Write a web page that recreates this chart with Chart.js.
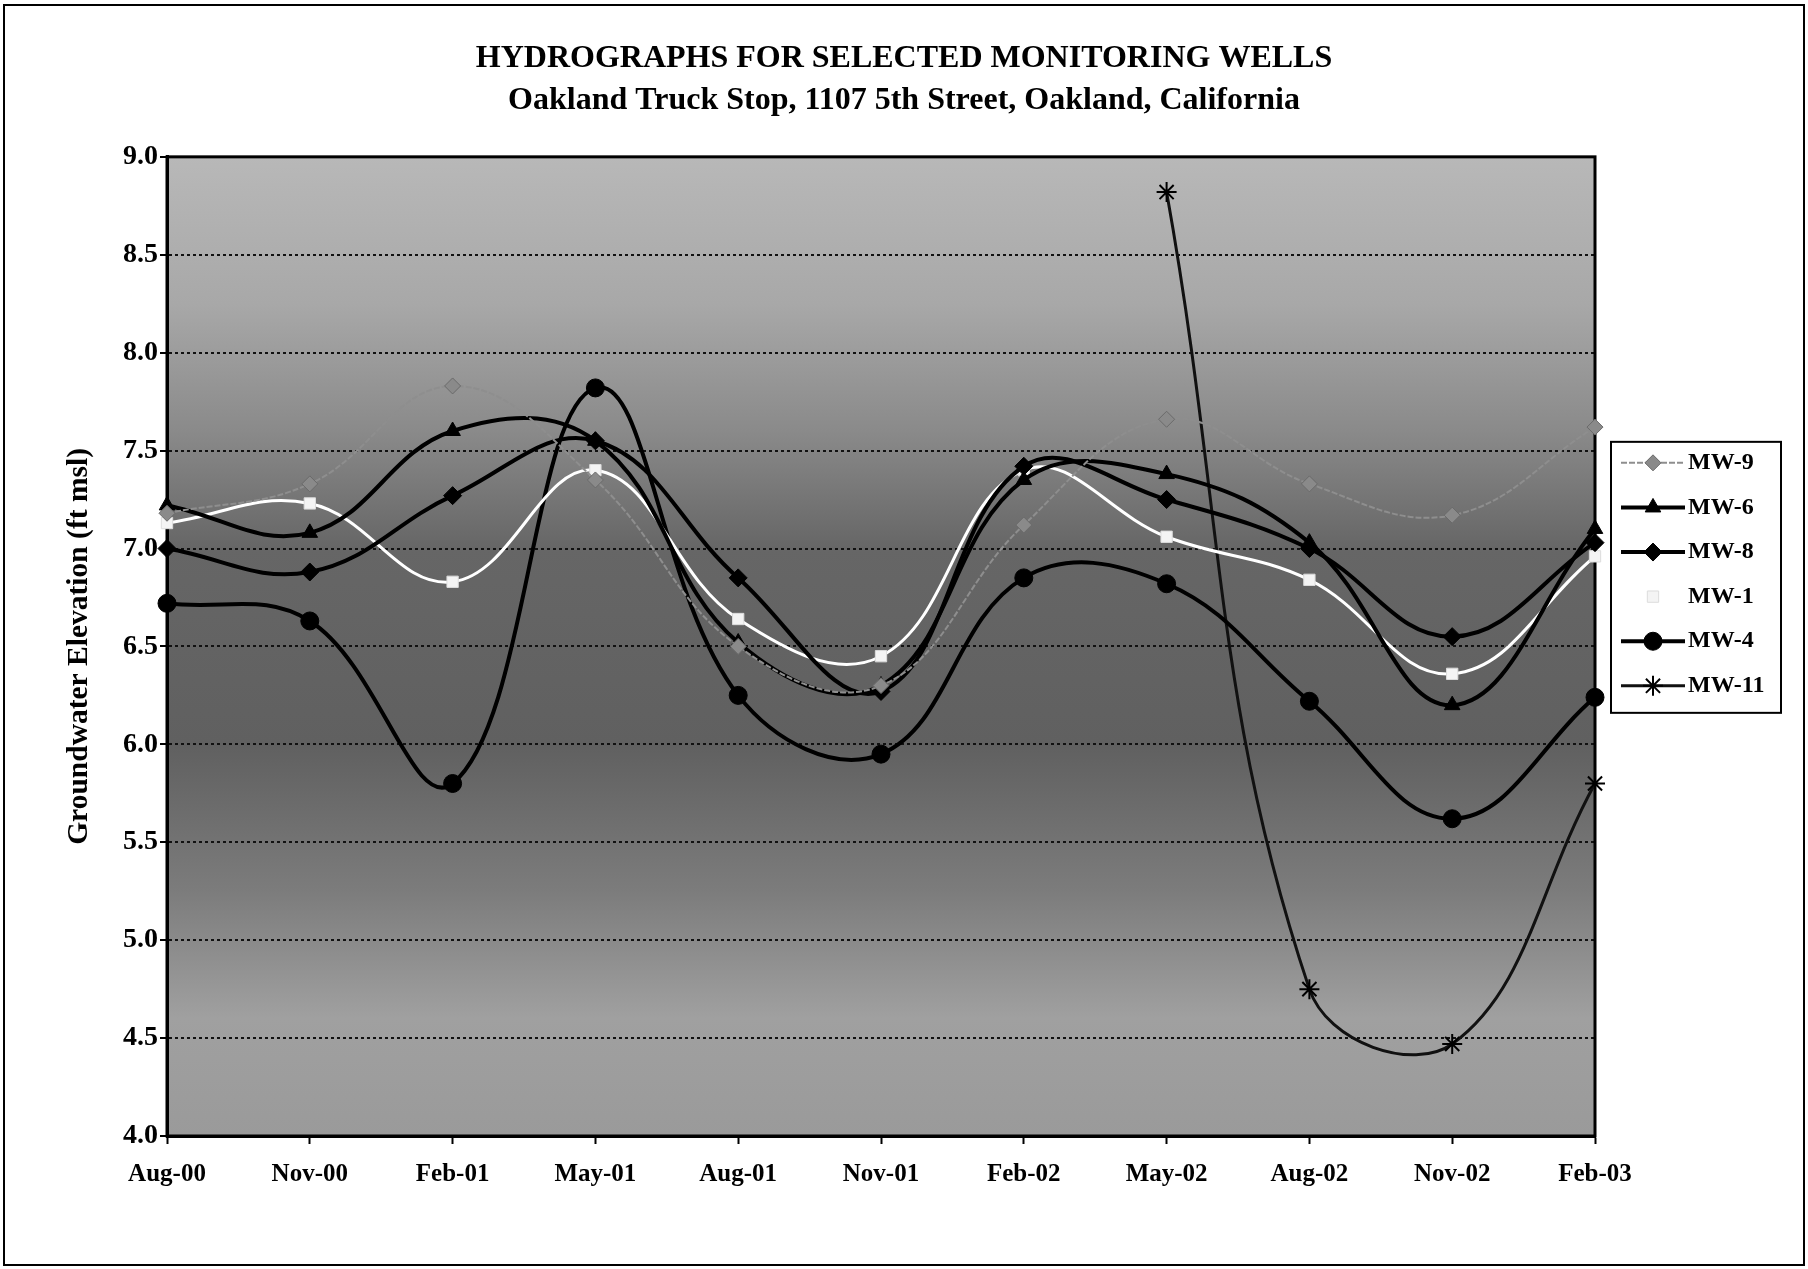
<!DOCTYPE html>
<html>
<head>
<meta charset="utf-8">
<script src="https://cdn.jsdelivr.net/npm/chart.js@4.4.1/dist/chart.umd.min.js"></script>
<style>
    html, body { margin: 0; padding: 0; background: #fff; }
    #wrap { width: 1808px; height: 1269px; }
</style>
</head>
<body>
<div id="wrap"><canvas id="hydroChart" width="1808" height="1269"></canvas></div>
<script>
// ===================================
// Hydrographs - Oakland Truck Stop
// ===================================

const titleLines = [
    'HYDROGRAPHS FOR SELECTED MONITORING WELLS',
    'Oakland Truck Stop, 1107 5th Street, Oakland, California'
];
const yAxisTitle = 'Groundwater Elevation (ft msl)';

// Sampling events
const sampleDates = ['Aug-00', 'Nov-00', 'Feb-01', 'May-01', 'Aug-01', 'Nov-01',
                     'Feb-02', 'May-02', 'Aug-02', 'Nov-02', 'Feb-03'];

// Groundwater elevations (ft msl)
const mw9  = [7.18, 7.33, 7.83, 7.35, 6.50, 6.30, 7.12, 7.66, 7.33, 7.17, 7.62];
const mw6  = [7.22, 7.08, 7.60, 7.55, 6.52, 6.30, 7.35, 7.38, 7.03, 6.20, 7.10];
const mw8  = [7.00, 6.88, 7.27, 7.55, 6.85, 6.27, 7.42, 7.25, 7.00, 6.55, 7.03];
const mw1  = [7.13, 7.23, 6.83, 7.40, 6.64, 6.45, 7.40, 7.06, 6.84, 6.36, 6.96];
const mw4  = [6.72, 6.63, 5.80, 7.82, 6.25, 5.95, 6.85, 6.82, 6.22, 5.62, 6.24];
const mw11 = [null, null, null, null, null, null, null, 8.82, 4.75, 4.47, 5.80];

// Y axis range / ticks
const yMin = 4.0;
const yMax = 9.0;
const yStep = 0.5;

const serif = '"Liberation Serif", "Times New Roman", serif';

// Background, outer frame and plot border
const plotFrame = {
    id: 'plotFrame',
    beforeDraw(chart) {
        const { ctx, chartArea: a } = chart;
        ctx.save();
        ctx.fillStyle = '#fff';
        ctx.fillRect(0, 0, chart.width, chart.height);
        ctx.strokeStyle = '#000';
        ctx.lineWidth = 2;
        ctx.strokeRect(4, 5, chart.width - 8, chart.height - 9);

        const g = ctx.createLinearGradient(0, a.top, 0, a.bottom);
        g.addColorStop(0.00, '#b8b8b8');
        g.addColorStop(0.15, '#a8a8a8');
        g.addColorStop(0.28, '#8a8a8a');
        g.addColorStop(0.40, '#666666');
        g.addColorStop(0.60, '#606060');
        g.addColorStop(0.75, '#7c7c7c');
        g.addColorStop(0.88, '#a0a0a0');
        g.addColorStop(1.00, '#9a9a9a');
        ctx.fillStyle = g;
        ctx.fillRect(a.left, a.top, a.width, a.height);
        ctx.restore();
    },
    beforeDatasetsDraw(chart) {
        const { ctx, chartArea: a } = chart;
        ctx.save();
        ctx.strokeStyle = '#000';
        ctx.lineWidth = 3;
        ctx.strokeRect(a.left, a.top, a.width, a.height);
        ctx.restore();
    }
};

// Boxed legend to the right of the plot
const sideLegend = {
    id: 'sideLegend',
    afterDraw(chart) {
        const { ctx, chartArea: a } = chart;
        const left = a.right + 16;
        const top = a.top + 285;
        const width = 170;
        const rowH = 44.6;
        const height = 271;
        ctx.save();
        ctx.fillStyle = '#fff';
        ctx.fillRect(left, top, width, height);
        ctx.strokeStyle = '#000';
        ctx.lineWidth = 2;
        ctx.strokeRect(left, top, width, height);

        chart.data.datasets.forEach((ds, i) => {
            const y = top + 21 + i * rowH;
            const x1 = left + 10;
            const x2 = left + 74;
            ctx.strokeStyle = ds.borderColor;
            ctx.lineWidth = ds.borderWidth;
            ctx.setLineDash(ds.borderDash || []);
            ctx.beginPath();
            ctx.moveTo(x1, y);
            ctx.lineTo(x2, y);
            ctx.stroke();
            ctx.setLineDash([]);
            ctx.fillStyle = ds.pointBackgroundColor;
            ctx.strokeStyle = ds.pointBorderColor;
            ctx.lineWidth = ds.pointBorderWidth;
            Chart.helpers.drawPoint(ctx, {
                pointStyle: ds.pointStyle,
                radius: ds.pointRadius,
                rotation: 0,
                borderWidth: ds.pointBorderWidth
            }, (x1 + x2) / 2, y);
            ctx.fillStyle = '#000';
            ctx.font = 'bold 24px ' + serif;
            ctx.textBaseline = 'middle';
            ctx.textAlign = 'left';
            ctx.fillText(ds.label, x2 + 3, y);
        });
        ctx.restore();
    }
};

function makeSeries(label, data, style) {
    return Object.assign({
        label: label,
        data: data,
        tension: 0.4,
        fill: false,
        spanGaps: false
    }, style);
}

const datasets = [
    makeSeries('MW-9', mw9, {
        borderColor: '#8e8e8e', borderWidth: 2, borderDash: [6, 2],
        pointStyle: 'rectRot', pointRadius: 8,
        pointBackgroundColor: '#8a8a8a', pointBorderColor: '#6a6a6a', pointBorderWidth: 1
    }),
    makeSeries('MW-6', mw6, {
        borderColor: '#000', borderWidth: 4,
        pointStyle: 'triangle', pointRadius: 9,
        pointBackgroundColor: '#000', pointBorderColor: '#000', pointBorderWidth: 1
    }),
    makeSeries('MW-8', mw8, {
        borderColor: '#000', borderWidth: 4,
        pointStyle: 'rectRot', pointRadius: 9,
        pointBackgroundColor: '#000', pointBorderColor: '#000', pointBorderWidth: 1
    }),
    makeSeries('MW-1', mw1, {
        borderColor: '#ffffff', borderWidth: 3,
        pointStyle: 'rect', pointRadius: 8,
        pointBackgroundColor: '#f4f4f4', pointBorderColor: '#dcdcdc', pointBorderWidth: 1
    }),
    makeSeries('MW-4', mw4, {
        borderColor: '#000', borderWidth: 4,
        pointStyle: 'circle', pointRadius: 9,
        pointBackgroundColor: '#000', pointBorderColor: '#000', pointBorderWidth: 1
    }),
    makeSeries('MW-11', mw11, {
        borderColor: '#111', borderWidth: 3,
        pointStyle: 'star', pointRadius: 10,
        pointBackgroundColor: '#000', pointBorderColor: '#000', pointBorderWidth: 2
    })
];

new Chart(document.getElementById('hydroChart'), {
    type: 'line',
    data: { labels: sampleDates, datasets: datasets },
    plugins: [plotFrame, sideLegend],
    options: {
        responsive: false,
        animation: false,
        layout: { padding: { left: 0, right: 0, top: 0, bottom: 40 } },
        plugins: {
            legend: { display: false },
            tooltip: { enabled: false },
            title: {
                display: true,
                text: titleLines,
                color: '#000',
                font: { family: serif, size: 32, weight: 'bold', lineHeight: 1.31 },
                padding: { top: 38, bottom: 35 }
            }
        },
        scales: {
            x: {
                type: 'category',
                offset: false,
                grid: { display: true, drawOnChartArea: false, drawTicks: true, tickLength: 8, tickColor: '#000', tickWidth: 2 },
                border: { display: true, color: '#000', width: 3 },
                ticks: {
                    color: '#000',
                    font: { family: serif, size: 25, weight: 'bold' },
                    padding: 16,
                    maxRotation: 0,
                    autoSkip: false
                },
                afterFit(scale) { scale.height = 1269 - 40 - 1136; }
            },
            y: {
                min: yMin,
                max: yMax,
                grid: {
                    color: '#111', lineWidth: 2,
                    drawTicks: true, tickLength: 7, tickColor: '#000', tickWidth: 2, tickBorderDash: []
                },
                border: { display: true, color: '#000', width: 3, dash: [3, 3] },
                ticks: {
                    stepSize: yStep,
                    color: '#000',
                    font: { family: serif, size: 28, weight: 'bold' },
                    padding: 2,
                    callback: v => Number(v).toFixed(1)
                },
                title: {
                    display: true,
                    text: yAxisTitle,
                    color: '#000',
                    font: { family: serif, size: 29.5, weight: 'bold', lineHeight: 1.2 },
                    padding: { top: 62, bottom: 0 }
                },
                afterFit(scale) { scale.width = 167; }
            },
            yRight: {
                position: 'right',
                min: yMin,
                max: yMax,
                grid: { display: false, drawTicks: false },
                border: { display: false },
                ticks: { display: false },
                afterFit(scale) { scale.width = 213; }
            }
        }
    }
});
</script>
</body>
</html>
